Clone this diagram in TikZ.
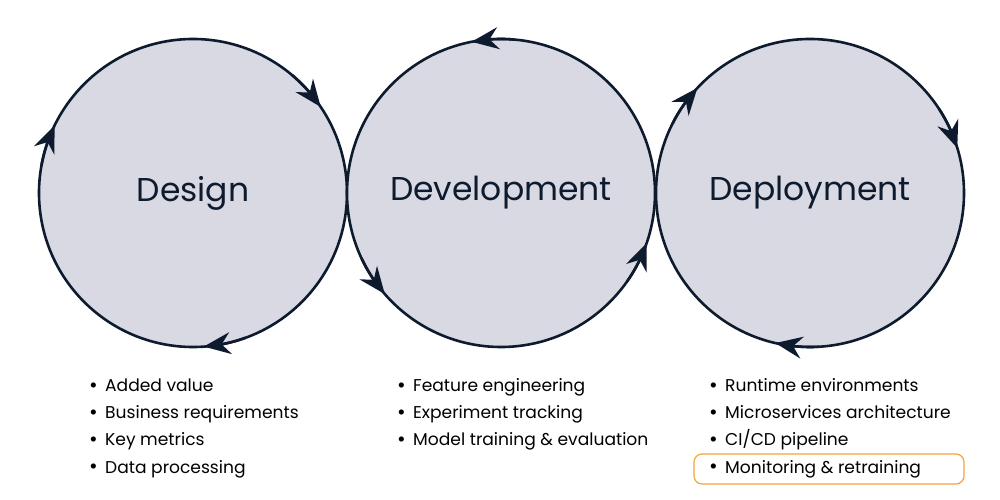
\documentclass[tikz,border=0pt]{standalone}
\usepackage{fontspec}
\setmainfont{Poppins}
\usetikzlibrary{arrows.meta,bending}
\definecolor{navy}{HTML}{0E1B2E}
\definecolor{phasefill}{HTML}{D8D9E2}
\definecolor{marker}{HTML}{F5A33E}
\tikzset{
  phase/.style={circle,draw=navy,fill=phasefill,line width=2.6pt,minimum size=308pt,inner sep=0pt,
    text=navy,font=\fontsize{33}{38}\selectfont},
  cyc/.style={draw=navy,line width=2.6pt,-{Stealth[length=27pt,width=22pt,inset=9pt,flex]}},
  item/.style={anchor=base west,inner sep=0pt,text=black,font=\fontsize{17.1}{20}\selectfont},
  highlight/.style={draw=marker,line width=1.2pt,rounded corners=8pt}
}
\newcommand\bulletitem[1]{\makebox[16pt][l]{\raisebox{-1pt}{\fontsize{21}{21}\selectfont•}}#1}
\begin{document}
\begin{tikzpicture}[x=1pt,y=1pt]
\useasboundingbox (0,0) rectangle (1000,500);
\node[phase] (design) at (193,307) {Design};
\node[phase] (develop) at (501,307) {Development};
\node[phase] (deploy) at (810,307) {Deployment};
% arrows round the circles
\foreach \a in {34,154,274}
  \draw[cyc] (design.center) ++(\a+16:154) arc[start angle=\a+16,end angle=\a,radius=154];
\foreach \a in {101,221,341}
  \draw[cyc] (develop.center) ++(\a-16:154) arc[start angle=\a-16,end angle=\a,radius=154];
\foreach \a in {17,137,257}
  \draw[cyc] (deploy.center) ++(\a+16:154) arc[start angle=\a+16,end angle=\a,radius=154];
% lists
\foreach \txt [count=\i] in {Added value,Business requirements,Key metrics,Data processing}
  \node[item] (des\i) at (89,108-27*\i+27) {\bulletitem{\txt}};
\foreach \txt [count=\i] in {Feature engineering,Experiment tracking,Model training \& evaluation}
  \node[item] (dev\i) at (397,108-27*\i+27) {\bulletitem{\txt}};
\foreach \txt [count=\i] in {Runtime environments,Microservices architecture,CI/CD pipeline,Monitoring \& retraining}
  \node[item] (dep\i) at (709,108-27*\i+27) {\bulletitem{\txt}};
\draw[highlight] (694,16) rectangle (964,46);
\end{tikzpicture}
\end{document}
